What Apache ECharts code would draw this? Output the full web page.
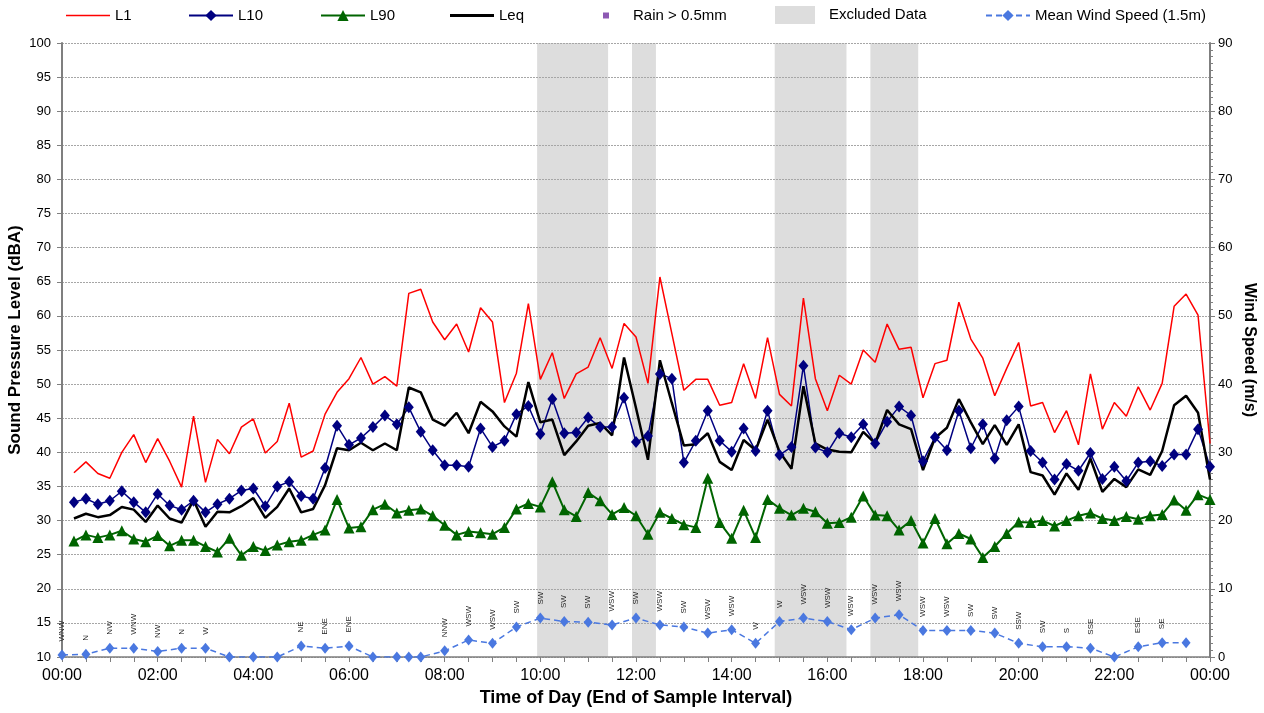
<!DOCTYPE html>
<html>
<head>
<meta charset="utf-8">
<script src="https://cdn.jsdelivr.net/npm/echarts@6/dist/echarts.min.js"></script>
<style>
  html, body { margin: 0; padding: 0; background: #fff; }
  #main { width: 1264px; height: 713px; }
</style>
</head>
<body>
<div id="main"></div>
<script>
// noise levels, 15 min samples, end of interval 00:15 .. 24:00
const L1 = [37.0,38.6,36.9,36.2,40.0,42.6,38.5,42.0,38.7,34.9,45.3,35.6,41.9,39.8,43.7,44.9,39.9,41.6,47.2,39.3,40.2,45.6,48.8,50.8,53.9,50.0,51.1,49.7,63.3,63.9,59.1,56.5,
  58.8,54.7,61.2,59.1,47.3,51.6,61.8,50.7,54.6,47.9,51.5,52.5,56.8,52.3,58.9,56.9,50.1,65.7,57.4,49.1,50.7,50.7,46.9,47.3,53.0,47.9,56.8,48.5,46.8,62.6,50.8,46.1,
  51.3,50.0,55.0,53.2,58.8,55.1,55.4,48.0,53.0,53.5,62.0,56.6,53.8,48.3,52.3,56.1,46.8,47.3,42.9,46.1,41.1,51.5,43.4,47.3,45.3,49.6,46.2,50.1,61.4,63.2,60.1,41.3];
const L10 = [32.7,33.2,32.4,32.9,34.3,32.7,31.2,33.9,32.2,31.6,32.9,31.2,32.4,33.2,34.4,34.7,32.1,35.0,35.7,33.6,33.2,37.7,43.9,41.1,42.1,43.7,45.4,44.1,46.6,43.0,40.3,38.1,
  38.1,37.9,43.5,40.8,41.7,45.6,46.8,42.7,47.8,42.8,42.9,45.1,43.7,43.7,48.0,41.5,42.4,51.5,50.8,38.5,41.7,46.1,41.7,40.1,43.5,40.2,46.1,39.6,40.8,52.7,40.7,40.0,
  42.8,42.2,44.1,41.3,44.5,46.7,45.4,38.7,42.2,40.3,46.1,40.6,44.1,39.1,44.7,46.7,40.2,38.5,36.0,38.3,37.3,39.9,36.1,37.9,35.8,38.5,38.7,38.0,39.7,39.7,43.4,37.9];
const L90 = [27.0,27.9,27.5,27.9,28.5,27.3,26.9,27.8,26.3,27.1,27.1,26.2,25.4,27.4,24.9,26.2,25.6,26.4,26.9,27.1,27.9,28.6,33.1,28.9,29.1,31.6,32.4,31.1,31.5,31.7,30.7,29.3,
  27.9,28.4,28.2,28.0,29.0,31.7,32.5,32.0,35.7,31.6,30.6,34.1,32.9,30.9,31.9,30.7,28.0,31.2,30.3,29.4,29.0,36.2,29.7,27.4,31.5,27.5,33.1,31.8,30.8,31.8,31.3,29.6,
  29.7,30.5,33.6,30.8,30.7,28.6,30.0,26.7,30.3,26.6,28.1,27.3,24.6,26.2,28.1,29.8,29.7,30.0,29.2,30.0,30.7,31.1,30.3,30.0,30.6,30.2,30.7,30.9,33.0,31.5,33.8,33.1];
const Leq = [30.3,31.0,30.5,30.8,32.0,31.6,29.8,32.2,30.3,29.7,33.0,29.1,31.3,31.2,32.1,33.3,30.4,32.0,34.7,31.2,31.7,35.2,40.6,40.3,41.4,40.3,41.3,40.3,49.5,48.8,44.8,43.9,
  45.8,42.8,47.4,46.0,43.8,42.3,50.3,44.4,44.8,39.6,41.6,43.9,44.3,42.5,53.9,46.5,38.9,53.5,47.2,41.0,41.2,42.8,38.6,37.4,41.8,40.3,44.8,40.1,37.6,49.7,41.3,40.4,
  40.1,40.0,43.0,41.3,46.2,44.1,43.4,37.4,42.1,43.6,47.8,44.4,41.2,44.0,41.1,44.1,37.1,36.6,33.8,36.9,34.5,39.1,34.2,36.1,34.9,37.5,36.7,40.2,46.9,48.3,45.8,36.0];

// wind
const windTimes = ['00:00','00:30','01:00','01:30','02:00','02:30','03:00','03:30','04:00','04:30','05:00','05:30','06:00','06:30','07:00','07:15','07:30','08:00','08:30','09:00','09:30','10:00','10:30','11:00','11:30','12:00','12:30','13:00','13:30','14:00','14:30','15:00','15:30','16:00','16:30','17:00','17:30','18:00','18:30','19:00','19:30','20:00','20:30','21:00','21:30','22:00','22:30','23:00','23:30'];
const windSpeed = [0.3,0.4,1.3,1.3,0.8,1.3,1.3,0,0,0,1.6,1.3,1.6,0,0,0,0,0.9,2.5,2.0,4.4,5.7,5.2,5.1,4.7,5.7,4.7,4.4,3.5,4.0,2.0,5.2,5.7,5.2,4.0,5.7,6.2,3.9,3.9,3.9,3.5,2.0,1.5,1.5,1.3,0,1.5,2.1,2.1];
const windDir = ['WNW','N','NW','WNW','NW','N','W','','','','NE','ENE','ENE','','','','','NNW','WSW','WSW','SW','SW','SW','SW','WSW','SW','WSW','SW','WSW','WSW','W','W','WSW','WSW','WSW','WSW','WSW','WSW','WSW','SW','SW','SSW','SW','S','SSE','','ESE','SE',''];

// excluded periods (minutes of day)
const excluded = [[596, 685], [715, 745], [894, 984], [1014, 1074]];

const toMin = s => { const p = s.split(':'); return +p[0] * 60 + +p[1]; };
const fmtTime = v => { const h = Math.floor(v / 60) % 24, m = v % 60; return (h < 10 ? '0' : '') + h + ':' + (m < 10 ? '0' : '') + m; };
const noise = arr => arr.map((v, i) => [(i + 1) * 15, v]);

const font = 'Arial, "Liberation Sans", sans-serif';
const axisCol = '#7f7f7f';

// legend icons: tiny corner dots keep the box size so the drawn part sits where it should
const box = (w, h) => 'M0,0h0.1v0.1h-0.1z M' + (w - 0.1) + ',' + (h - 0.1) + 'h0.1v0.1h-0.1z ';
const lineIcon = t => 'path://' + box(44, 14) + 'M0,' + (7 - t / 2) + 'h44v' + t + 'h-44z';

const chart = echarts.init(document.getElementById('main'));

const legendAt = (item, left, extra) => Object.assign({
  data: [item], left: left, top: 8, padding: 0, itemWidth: 44, itemHeight: 14, itemGap: 0,
  textStyle: { fontFamily: font, fontSize: 15, color: '#000' }
}, extra || {});

const option = {
  animation: false,
  textStyle: { fontFamily: font },
  legend: [
    legendAt({ name: 'L1', icon: lineIcon(1.5) }, 66),
    legendAt('L10', 188),
    legendAt('L90', 320),
    legendAt({ name: 'Leq', icon: lineIcon(3) }, 450),
    legendAt({ name: 'Rain > 0.5mm', icon: 'path://' + box(38, 14) + 'M13,4h6v6h-6z' }, 590, { itemWidth: 38 }),
    legendAt({ name: 'Excluded Data', icon: 'path://' + box(49, 18) + 'M0,0h40v18h-40z', itemStyle: { color: '#dddddd' } }, 775, { itemWidth: 49, itemHeight: 18, top: 6 }),
    legendAt('Mean Wind Speed (1.5m)', 985)
  ],
  grid: { left: 62, right: 54, top: 43, bottom: 56, outerBoundsMode: 'none' },
  xAxis: {
    type: 'value', min: 0, max: 1440, interval: 120,
    name: 'Time of Day (End of Sample Interval)', nameLocation: 'middle', nameGap: 32,
    nameTextStyle: { fontWeight: 'bold', fontSize: 18, color: '#000' },
    axisLine: { lineStyle: { color: axisCol, width: 1.5 } },
    axisTick: { length: 5, lineStyle: { color: axisCol } },
    minorTick: { show: true, splitNumber: 4, length: 5, lineStyle: { color: axisCol } },
    axisLabel: { formatter: fmtTime, fontSize: 16, color: '#000', margin: 11 },
    splitLine: { show: false }
  },
  yAxis: [{
    type: 'value', min: 10, max: 100, interval: 5,
    name: 'Sound Pressure Level (dBA)', nameLocation: 'middle', nameGap: 38, nameMoveOverlap: false,
    nameTextStyle: { fontWeight: 'bold', fontSize: 17, color: '#000', padding: [0, 0, 0, 20] },
    axisLine: { show: true, lineStyle: { color: axisCol, width: 2 } },
    axisTick: { show: true, length: 5, lineStyle: { color: axisCol } },
    axisLabel: { fontSize: 13, color: '#000', margin: 11 },
    splitLine: { show: true, lineStyle: { color: '#a6a6a6', type: [2, 1], width: 1 } }
  }, {
    type: 'value', min: 0, max: 90, interval: 10, position: 'right',
    name: 'Wind Speed (m/s)', nameLocation: 'middle', nameGap: 31, nameRotate: -90, nameMoveOverlap: false,
    nameTextStyle: { fontWeight: 'bold', fontSize: 16, color: '#000' },
    axisLine: { show: true, lineStyle: { color: axisCol, width: 2 } },
    axisTick: { show: true, length: 5, lineStyle: { color: axisCol } },
    minorTick: { show: true, splitNumber: 10, length: 3, lineStyle: { color: axisCol } },
    axisLabel: { fontSize: 13, color: '#000', margin: 8 },
    splitLine: { show: false }
  }],
  series: [
    {
      name: 'Excluded Data', type: 'bar', data: [], z: -1,
      itemStyle: { color: '#dddddd' },
      markArea: {
        silent: true, z: -1,
        itemStyle: { color: '#dddddd', opacity: 1 },
        data: excluded.map(e => [{ xAxis: e[0] }, { xAxis: e[1] }])
      }
    },
    {
      name: 'L1', type: 'line', data: noise(L1), showSymbol: false, symbol: 'none',
      lineStyle: { color: '#ff0000', width: 1.5 }, itemStyle: { color: '#ff0000' }
    },
    {
      name: 'L10', type: 'line', data: noise(L10), symbol: 'diamond', symbolSize: [10, 12],
      lineStyle: { color: '#000080', width: 1.5 }, itemStyle: { color: '#000080' }
    },
    {
      name: 'L90', type: 'line', data: noise(L90), symbol: 'triangle', symbolSize: 11,
      lineStyle: { color: '#006400', width: 2 }, itemStyle: { color: '#006400' }
    },
    {
      name: 'Leq', type: 'line', data: noise(Leq), showSymbol: false, symbol: 'none',
      lineStyle: { color: '#000000', width: 2.5 }, itemStyle: { color: '#000000' }
    },
    {
      name: 'Rain > 0.5mm', type: 'scatter', data: [], symbol: 'rect',
      itemStyle: { color: '#7030a0' }
    },
    {
      name: 'Mean Wind Speed (1.5m)', type: 'line', yAxisIndex: 1,
      data: windTimes.map((t, i) => [toMin(t), windSpeed[i]]),
      symbol: 'diamond', symbolSize: [9, 11],
      lineStyle: { color: '#4a78e0', width: 1.5, type: [6, 4] }, itemStyle: { color: '#4a78e0' },
      label: {
        show: true, position: 'top', distance: 8, rotate: 90, align: 'left', verticalAlign: 'middle',
        fontSize: 8, color: '#222', fontFamily: font,
        formatter: p => windDir[p.dataIndex]
      }
    }
  ]
};

chart.setOption(option);
</script>
</body>
</html>
